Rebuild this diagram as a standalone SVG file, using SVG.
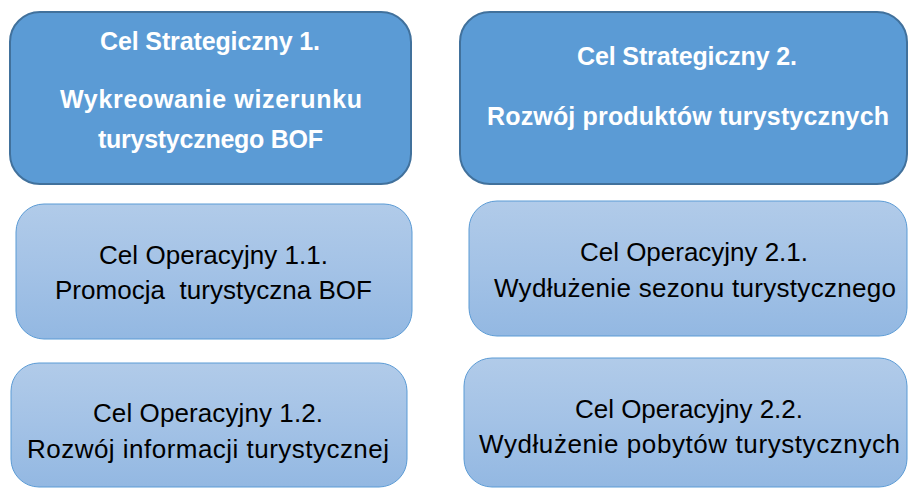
<svg xmlns="http://www.w3.org/2000/svg" width="908" height="489" viewBox="0 0 908 489">
<defs>
<linearGradient id="opg" x1="0" y1="0" x2="0" y2="1">
<stop offset="0" stop-color="#B1CBE9"/>
<stop offset="0.5" stop-color="#A3C2E6"/>
<stop offset="1" stop-color="#93B8E2"/>
</linearGradient>
<style>
.strat{fill:#5B9BD5;stroke:#41719C;stroke-width:2}
.op{fill:url(#opg);stroke:#5B9BD5;stroke-width:1}
.st{font-family:"Liberation Sans",Arial,sans-serif;font-weight:bold;font-size:25px;fill:#FFFFFF;text-anchor:middle}
.ot{font-family:"Liberation Sans",Arial,sans-serif;font-size:26px;fill:#000000;text-anchor:middle}
</style>
</defs>
<g id="cs1">
<rect class="strat" x="10" y="12" width="401" height="172" rx="30" ry="30"/>
<text class="st" x="210" y="50" textLength="220">Cel Strategiczny 1.</text>
<text class="st" x="211" y="108" textLength="302">Wykreowanie wizerunku</text>
<text class="st" x="210.5" y="148" textLength="225">turystycznego BOF</text>
</g>
<g id="cs2">
<rect class="strat" x="460" y="12" width="447" height="172" rx="30" ry="30"/>
<text class="st" x="687" y="65" textLength="220">Cel Strategiczny 2.</text>
<text class="st" x="688" y="125" textLength="402">Rozwój produktów turystycznych</text>
</g>
<g id="co11">
<rect class="op" x="16" y="204" width="396" height="135" rx="28" ry="28"/>
<text class="ot" x="213.5" y="264" textLength="229">Cel Operacyjny 1.1.</text>
<text class="ot" x="213.5" y="299" textLength="317" xml:space="preserve">Promocja  turystyczna BOF</text>
</g>
<g id="co12">
<rect class="op" x="11" y="363" width="396" height="124" rx="28" ry="28"/>
<text class="ot" x="208" y="422" textLength="230">Cel Operacyjny 1.2.</text>
<text class="ot" x="208" y="458" textLength="362">Rozwój informacji turystycznej</text>
</g>
<g id="co21">
<rect class="op" x="469" y="201" width="438" height="135" rx="28" ry="28"/>
<text class="ot" x="694" y="261" textLength="228">Cel Operacyjny 2.1.</text>
<text class="ot" x="695" y="297" textLength="402">Wydłużenie sezonu turystycznego</text>
</g>
<g id="co22">
<rect class="op" x="464" y="358" width="443" height="129" rx="28" ry="28"/>
<text class="ot" x="689" y="418" textLength="228">Cel Operacyjny 2.2.</text>
<text class="ot" x="689.5" y="453" textLength="421">Wydłużenie pobytów turystycznych</text>
</g>
<g id="connectors"/>
</svg>
